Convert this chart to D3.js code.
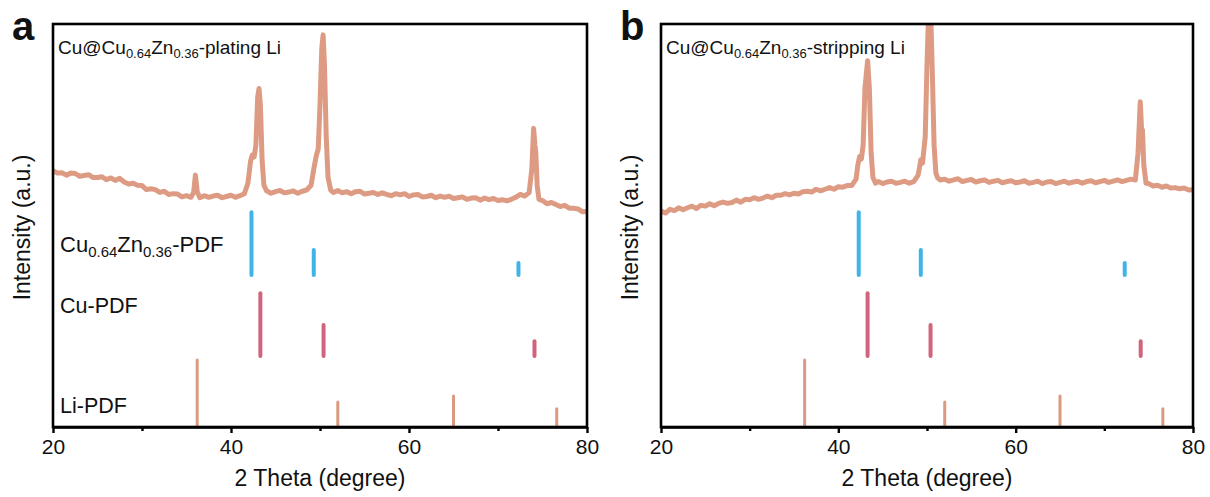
<!DOCTYPE html>
<html><head><meta charset="utf-8">
<script src="https://cdn.jsdelivr.net/npm/d3@7"></script>
<style>body{margin:0;background:#fff}svg{display:block}text{font-family:"Liberation Sans",Arial,sans-serif;fill:#111}</style>
</head><body><svg id="c" width="1210" height="497"></svg>
<script>
// ---------- data ----------
const xTicks = [20, 40, 60, 80];
const xMinorTicks = [30, 50, 70];

const platingAngle = [
  20,20.5,21,21.5,22,22.5,23,23.5,24,24.5,25,25.5,26,26.5,27,27.5,28,28.5,29,29.5,30,30.5,31,31.5,32,32.5,33,33.5,34,34.5,35,35.5,
  35.8,36,36.2,
  36.5,37,37.5,38,38.5,39,39.5,40,40.5,41,41.5,
  41.9,42.2,42.4,42.6,42.8,43,43.15,43.3,43.5,43.7,
  44,44.5,45,45.5,46,46.5,47,47.5,48,48.5,
  49,49.3,49.6,49.8,50,50.2,50.35,50.5,50.7,50.9,51.2,
  51.5,
  52,52.5,53,53.5,54,54.5,55,55.5,56,56.5,57,57.5,58,58.5,59,59.5,60,60.5,61,61.5,62,62.5,63,63.5,64,64.5,65,65.5,66,66.5,67,67.5,68,68.5,69,69.5,70,70.5,71,71.5,72,72.5,73,73.5,
  73.8,74,74.15,74.25,74.4,74.6,
  75,75.5,76,76.5,77,77.5,78,78.5,79,79.5,80];
const platingIntensity = [
  63.6,63.0,63.1,62.5,63.0,62.9,62.2,62.4,62.6,61.9,61.9,62.1,61.4,61.8,61.2,61.7,60.8,60.3,60.5,60.0,59.9,58.9,59.1,58.9,58.2,58.5,57.7,57.9,57.8,57.1,57.4,57.0,
  58.2,62.5,58.4,
  56.9,57.4,57.0,57.3,57.5,56.9,57.2,57.5,57.0,57.4,57.9,
  60.5,66.0,67.5,67.0,70.0,82.0,84.0,80.0,66.0,60.0,
  58.6,58.0,58.4,58.7,58.1,58.3,58.6,58.0,58.5,58.8,
  60.0,64.0,67.5,69.0,80.0,94.0,97.3,90.0,72.0,62.0,58.8,
  58.2,
  58.7,58.1,58.4,57.9,58.4,58.5,57.8,58.0,58.2,57.7,58.1,57.7,57.4,57.9,57.6,57.9,57.2,57.6,57.7,57.1,57.2,57.5,56.9,57.3,57.0,57.3,56.7,56.9,57.1,56.5,56.8,56.9,56.3,56.8,56.4,56.7,56.2,56.4,56.1,56.5,57.0,57.7,57.3,58.2,
  64.0,74.1,70.0,68.0,60.0,56.5,
  56.2,55.4,55.7,55.2,54.7,55.0,54.3,54.3,54.1,53.4,53.5];

const strippingAngle = [
  20,20.5,21,21.5,22,22.5,23,23.5,24,24.5,25,25.5,26,26.5,27,27.5,28,28.5,29,29.5,30,30.5,31,31.5,32,32.5,33,33.5,34,34.5,35,35.5,36,36.5,37,37.5,38,38.5,39,39.5,40,40.5,41,41.5,42,
  42.2,42.4,42.6,42.8,43,43.3,43.5,43.7,43.9,44.2,
  44.5,45,45.5,46,46.5,47,47.5,48,48.5,49,
  49.3,49.5,49.8,50,50.2,50.4,50.6,50.8,51,51.2,
  51.5,
  52,52.5,53,53.5,54,54.5,55,55.5,56,56.5,57,57.5,58,58.5,59,59.5,60,60.5,61,61.5,62,62.5,63,63.5,64,64.5,65,65.5,66,66.5,67,67.5,68,68.5,69,69.5,70,70.5,71,71.5,72,72.5,73,73.5,
  73.8,74.05,74.2,74.3,74.45,74.7,
  75,75.5,76,76.5,77,77.5,78,78.5,79,79.5,80];
const strippingIntensity = [
  53.6,53.1,54.0,53.7,54.4,53.9,54.4,54.8,54.2,55.0,54.8,55.4,54.9,55.5,55.8,55.5,55.7,56.3,55.8,56.5,56.4,56.9,56.5,56.8,57.3,56.9,57.5,57.5,57.9,57.6,58.0,57.8,58.4,58.5,58.3,59.0,58.6,59.0,59.4,59.0,59.6,59.5,59.9,59.9,61.5,
  65.0,67.1,66.5,70.0,84.0,90.9,84.0,68.0,62.0,60.5,
  60.9,60.4,60.8,61.0,60.5,60.7,61.0,60.5,60.9,62.5,
  66.3,65.5,72.0,90.0,104,104,88.0,70.0,63.0,61.8,
  61.3,
  61.5,61.0,61.3,61.6,60.9,61.2,61.4,60.8,61.1,61.3,60.7,61.0,61.2,60.6,60.9,61.1,60.6,60.8,61.1,60.5,60.7,61.0,60.4,60.8,60.9,60.4,60.7,61.0,60.5,60.8,61.0,60.5,60.9,61.1,60.6,60.9,61.2,60.7,61.0,61.3,60.9,61.2,61.5,61.3,
  68.0,80.7,74.0,73.7,65.0,60.5,
  60.4,59.8,60.0,59.5,59.8,59.3,59.4,59.1,59.3,58.8,58.9];

// reference patterns (PDF sticks)
const cuZnAngle = [42.3, 49.3, 72.3];
const cuZnHeight = [15.6, 6.2, 3.0];
const cuAngle = [43.3, 50.4, 74.1];
const cuHeight = [15.6, 7.7, 3.7];
const liAngle = [36.2, 52.0, 65.0, 76.6];
const liHeight = [16.6, 6.2, 7.7, 4.5];
const stickBase = [37.7, 17.6, 0];      // vertical offsets of the three stick rows
const patternLabels = ["Cu-PDF", "Li-PDF"];

// ---------- drawing ----------
const svg = d3.select("#c");
const curveColor = "#DE9B83", blue = "#41B4E7", red = "#D0647C", liColor = "#DA9A80";
const plotTop = 24, plotBottom = 427;
const y = d3.scaleLinear().domain([0, 100]).range([plotBottom, plotTop]);

function panel(id, x0, x1, letter, titleTail, angles, values, withLabels) {
  const x = d3.scaleLinear().domain([20, 80]).range([x0, x1]);
  const g = svg.append("g");
  g.append("clipPath").attr("id", "clip" + id).append("rect")
    .attr("x", x0).attr("y", plotTop).attr("width", x1 - x0).attr("height", plotBottom - plotTop);

  const pts = angles.map((a, i) => [a, values[i]]);
  g.append("path").datum(pts)
    .attr("clip-path", "url(#clip" + id + ")")
    .attr("d", d3.line().x(d => x(d[0])).y(d => y(d[1])))
    .attr("fill", "none").attr("stroke", curveColor).attr("stroke-width", 5)
    .attr("stroke-linejoin", "round");

  const sticks = (ang, h, base, col, w) => {
    g.selectAll(null).data(ang.map((a, i) => [a, h[i]])).enter().append("line")
      .attr("x1", d => x(d[0])).attr("x2", d => x(d[0]))
      .attr("y1", y(base)).attr("y2", d => y(base + d[1]))
      .attr("stroke", col).attr("stroke-width", w).attr("stroke-linecap", "round");
  };
  sticks(cuZnAngle, cuZnHeight, stickBase[0], blue, 4);
  sticks(cuAngle, cuHeight, stickBase[1], red, 4);
  sticks(liAngle, liHeight, stickBase[2], liColor, 3);

  // frame
  g.append("rect").attr("x", x0).attr("y", plotTop).attr("width", x1 - x0).attr("height", plotBottom - plotTop)
    .attr("fill", "none").attr("stroke", "#000").attr("stroke-width", 2.6);

  // x axis
  const ax = g.append("g").attr("transform", `translate(0,${plotBottom})`)
    .call(d3.axisBottom(x).tickValues(xTicks).tickSize(6).tickSizeOuter(0).tickPadding(6));
  ax.select(".domain").attr("stroke-width", 2.6);
  ax.selectAll(".tick line").attr("stroke-width", 2.4);
  ax.selectAll("text").style("font-size", "21px").style("font-family", "Liberation Sans, Arial, sans-serif").attr("fill", "#111");
  const mn = g.append("g").attr("transform", `translate(0,${plotBottom})`)
    .call(d3.axisBottom(x).tickValues(xMinorTicks).tickSize(4).tickFormat(""));
  mn.select(".domain").remove();
  mn.selectAll(".tick line").attr("stroke-width", 2.4);

  g.append("text").attr("x", (x0 + x1) / 2).attr("y", 486).attr("text-anchor", "middle")
    .style("font-size", "23px").text("2 Theta (degree)");
  g.append("text").attr("transform", `translate(${x0 - 23},${(plotTop + plotBottom) / 2 + 2}) rotate(-90)`)
    .attr("text-anchor", "middle").style("font-size", "23px").text("Intensity (a.u.)");

  g.append("text").attr("x", x0 - 41).attr("y", 40).style("font-size", "40px")
    .style("font-weight", "bold").attr("fill", "#222").text(letter);

  const t = g.append("text").attr("x", x0 + 5).attr("y", 54).style("font-size", "19px");
  t.append("tspan").text("Cu@Cu");
  t.append("tspan").attr("dy", 4).style("font-size", "13px").text("0.64");
  t.append("tspan").attr("dy", -4).text("Zn");
  t.append("tspan").attr("dy", 4).style("font-size", "13px").text("0.36");
  t.append("tspan").attr("dy", -4).text(titleTail);

  if (withLabels) {
    const l = g.append("text").attr("x", x0 + 7).attr("y", 252).style("font-size", "22px");
    l.append("tspan").text("Cu");
    l.append("tspan").attr("dy", 5).style("font-size", "15px").text("0.64");
    l.append("tspan").attr("dy", -5).text("Zn");
    l.append("tspan").attr("dy", 5).style("font-size", "15px").text("0.36");
    l.append("tspan").attr("dy", -5).text("-PDF");
    g.append("text").attr("x", x0 + 7).attr("y", 313).style("font-size", "21.5px").text(patternLabels[0]);
    g.append("text").attr("x", x0 + 7).attr("y", 413).style("font-size", "21.5px").text(patternLabels[1]);
  }
}

panel("a", 53, 587, "a", "-plating Li", platingAngle, platingIntensity, true);
panel("b", 661, 1193, "b", "-stripping Li", strippingAngle, strippingIntensity, false);
</script></body></html>
